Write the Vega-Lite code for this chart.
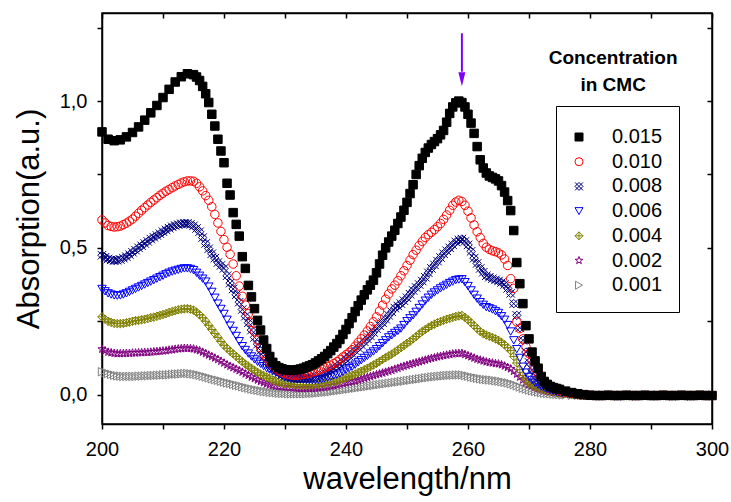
{
"$schema":"https://vega.github.io/schema/vega-lite/v6.json",
"width":610,"height":411,
"autosize":{"type":"none"},
"padding":{"left":102,"top":13,"right":19,"bottom":78},
"background":"white",
"config":{
"font":"Liberation Sans",
"view":{"stroke":"black","strokeWidth":1.5},
"axis":{"domainColor":"black","domainWidth":1.5,"tickColor":"black","tickWidth":1.5,"labelColor":"black","titleColor":"black","labelFont":"Liberation Sans","titleFont":"Liberation Sans","titleFontWeight":"normal","grid":false}
},
"datasets":{
"arrow":[{"w":259,"a":1.231,"a2":1.1}],
"head":[{"w":259,"a":1.074}],
"ltitle":[{"w":283.8,"a":1.146,"t":"Concentration"},{"w":283.8,"a":1.056,"t":"in CMC"}],
"spectra":[
{"c":"0.001","w":200,"a":0.078},{"c":"0.001","w":201,"a":0.072},{"c":"0.001","w":202,"a":0.066},{"c":"0.001","w":203,"a":0.063},{"c":"0.001","w":204,"a":0.062},{"c":"0.001","w":205,"a":0.062},{"c":"0.001","w":206,"a":0.063},{"c":"0.001","w":207,"a":0.064},{"c":"0.001","w":208,"a":0.065},{"c":"0.001","w":209,"a":0.066},{"c":"0.001","w":210,"a":0.067},{"c":"0.001","w":211,"a":0.068},{"c":"0.001","w":212,"a":0.07},{"c":"0.001","w":213,"a":0.071},{"c":"0.001","w":214,"a":0.072},{"c":"0.001","w":215,"a":0.07},{"c":"0.001","w":216,"a":0.066},{"c":"0.001","w":217,"a":0.06},{"c":"0.001","w":218,"a":0.054},{"c":"0.001","w":219,"a":0.049},{"c":"0.001","w":220,"a":0.043},{"c":"0.001","w":221,"a":0.038},{"c":"0.001","w":222,"a":0.032},{"c":"0.001","w":223,"a":0.027},{"c":"0.001","w":224,"a":0.022},{"c":"0.001","w":225,"a":0.017},{"c":"0.001","w":226,"a":0.013},{"c":"0.001","w":227,"a":0.01},{"c":"0.001","w":228,"a":0.007},{"c":"0.001","w":229,"a":0.005},{"c":"0.001","w":230,"a":0.004},{"c":"0.001","w":231,"a":0.003},{"c":"0.001","w":232,"a":0.003},{"c":"0.001","w":233,"a":0.003},{"c":"0.001","w":234,"a":0.004},{"c":"0.001","w":235,"a":0.005},{"c":"0.001","w":236,"a":0.007},{"c":"0.001","w":237,"a":0.009},{"c":"0.001","w":238,"a":0.012},{"c":"0.001","w":239,"a":0.015},{"c":"0.001","w":240,"a":0.018},{"c":"0.001","w":241,"a":0.021},{"c":"0.001","w":242,"a":0.024},{"c":"0.001","w":243,"a":0.027},{"c":"0.001","w":244,"a":0.03},{"c":"0.001","w":245,"a":0.033},{"c":"0.001","w":246,"a":0.036},{"c":"0.001","w":247,"a":0.039},{"c":"0.001","w":248,"a":0.042},{"c":"0.001","w":249,"a":0.045},{"c":"0.001","w":250,"a":0.048},{"c":"0.001","w":251,"a":0.051},{"c":"0.001","w":252,"a":0.054},{"c":"0.001","w":253,"a":0.057},{"c":"0.001","w":254,"a":0.06},{"c":"0.001","w":255,"a":0.062},{"c":"0.001","w":256,"a":0.064},{"c":"0.001","w":257,"a":0.066},{"c":"0.001","w":258,"a":0.067},{"c":"0.001","w":259,"a":0.067},{"c":"0.001","w":260,"a":0.063},{"c":"0.001","w":261,"a":0.058},{"c":"0.001","w":262,"a":0.054},{"c":"0.001","w":263,"a":0.051},{"c":"0.001","w":264,"a":0.049},{"c":"0.001","w":265,"a":0.046},{"c":"0.001","w":266,"a":0.042},{"c":"0.001","w":267,"a":0.037},{"c":"0.001","w":268,"a":0.03},{"c":"0.001","w":269,"a":0.022},{"c":"0.001","w":270,"a":0.016},{"c":"0.001","w":271,"a":0.011},{"c":"0.001","w":272,"a":0.007},{"c":"0.001","w":273,"a":0.004},{"c":"0.001","w":274,"a":0.002},{"c":"0.001","w":275,"a":0},{"c":"0.001","w":276,"a":-0.001},{"c":"0.001","w":277,"a":-0.002},{"c":"0.001","w":278,"a":-0.002},{"c":"0.001","w":279,"a":-0.003},{"c":"0.001","w":280,"a":-0.003},{"c":"0.001","w":281,"a":-0.002},{"c":"0.001","w":282,"a":-0.003},{"c":"0.001","w":283,"a":-0.003},{"c":"0.001","w":284,"a":-0.002},{"c":"0.001","w":285,"a":-0.003},{"c":"0.001","w":286,"a":-0.003},{"c":"0.001","w":287,"a":-0.002},{"c":"0.001","w":288,"a":-0.003},{"c":"0.001","w":289,"a":-0.003},{"c":"0.001","w":290,"a":-0.002},{"c":"0.001","w":291,"a":-0.003},{"c":"0.001","w":292,"a":-0.003},{"c":"0.001","w":293,"a":-0.002},{"c":"0.001","w":294,"a":-0.003},{"c":"0.001","w":295,"a":-0.003},{"c":"0.001","w":296,"a":-0.002},{"c":"0.001","w":297,"a":-0.003},{"c":"0.001","w":298,"a":-0.003},{"c":"0.001","w":299,"a":-0.002},{"c":"0.001","w":300,"a":-0.003},
{"c":"0.001","w":200.5,"a":0.075},{"c":"0.001","w":201.5,"a":0.069},{"c":"0.001","w":202.5,"a":0.064},{"c":"0.001","w":203.5,"a":0.062},{"c":"0.001","w":204.5,"a":0.062},{"c":"0.001","w":205.5,"a":0.062},{"c":"0.001","w":206.5,"a":0.063},{"c":"0.001","w":207.5,"a":0.064},{"c":"0.001","w":208.5,"a":0.065},{"c":"0.001","w":209.5,"a":0.066},{"c":"0.001","w":210.5,"a":0.067},{"c":"0.001","w":211.5,"a":0.069},{"c":"0.001","w":212.5,"a":0.07},{"c":"0.001","w":213.5,"a":0.072},{"c":"0.001","w":214.5,"a":0.071},{"c":"0.001","w":215.5,"a":0.068},{"c":"0.001","w":216.5,"a":0.063},{"c":"0.001","w":217.5,"a":0.057},{"c":"0.001","w":218.5,"a":0.051},{"c":"0.001","w":219.5,"a":0.046},{"c":"0.001","w":220.5,"a":0.04},{"c":"0.001","w":221.5,"a":0.035},{"c":"0.001","w":222.5,"a":0.03},{"c":"0.001","w":223.5,"a":0.024},{"c":"0.001","w":224.5,"a":0.019},{"c":"0.001","w":225.5,"a":0.015},{"c":"0.001","w":226.5,"a":0.011},{"c":"0.001","w":227.5,"a":0.008},{"c":"0.001","w":228.5,"a":0.006},{"c":"0.001","w":229.5,"a":0.004},{"c":"0.001","w":230.5,"a":0.003},{"c":"0.001","w":231.5,"a":0.003},{"c":"0.001","w":232.5,"a":0.003},{"c":"0.001","w":233.5,"a":0.003},{"c":"0.001","w":234.5,"a":0.004},{"c":"0.001","w":235.5,"a":0.006},{"c":"0.001","w":236.5,"a":0.008},{"c":"0.001","w":237.5,"a":0.01},{"c":"0.001","w":238.5,"a":0.013},{"c":"0.001","w":239.5,"a":0.016},{"c":"0.001","w":240.5,"a":0.019},{"c":"0.001","w":241.5,"a":0.022},{"c":"0.001","w":242.5,"a":0.025},{"c":"0.001","w":243.5,"a":0.028},{"c":"0.001","w":244.5,"a":0.031},{"c":"0.001","w":245.5,"a":0.034},{"c":"0.001","w":246.5,"a":0.037},{"c":"0.001","w":247.5,"a":0.04},{"c":"0.001","w":248.5,"a":0.043},{"c":"0.001","w":249.5,"a":0.046},{"c":"0.001","w":250.5,"a":0.049},{"c":"0.001","w":251.5,"a":0.052},{"c":"0.001","w":252.5,"a":0.055},{"c":"0.001","w":253.5,"a":0.058},{"c":"0.001","w":254.5,"a":0.061},{"c":"0.001","w":255.5,"a":0.063},{"c":"0.001","w":256.5,"a":0.065},{"c":"0.001","w":257.5,"a":0.066},{"c":"0.001","w":258.5,"a":0.067},{"c":"0.001","w":259.5,"a":0.065},{"c":"0.001","w":260.5,"a":0.06},{"c":"0.001","w":261.5,"a":0.056},{"c":"0.001","w":262.5,"a":0.052},{"c":"0.001","w":263.5,"a":0.05},{"c":"0.001","w":264.5,"a":0.047},{"c":"0.001","w":265.5,"a":0.044},{"c":"0.001","w":266.5,"a":0.04},{"c":"0.001","w":267.5,"a":0.034},{"c":"0.001","w":268.5,"a":0.026},{"c":"0.001","w":269.5,"a":0.019},{"c":"0.001","w":270.5,"a":0.013},{"c":"0.001","w":271.5,"a":0.009},{"c":"0.001","w":272.5,"a":0.005},{"c":"0.001","w":273.5,"a":0.003},{"c":"0.001","w":274.5,"a":0.001},{"c":"0.001","w":275.5,"a":-0.001},
{"c":"0.002","w":200,"a":0.155},{"c":"0.002","w":201,"a":0.145},{"c":"0.002","w":202,"a":0.141},{"c":"0.002","w":203,"a":0.14},{"c":"0.002","w":204,"a":0.141},{"c":"0.002","w":205,"a":0.142},{"c":"0.002","w":206,"a":0.143},{"c":"0.002","w":207,"a":0.144},{"c":"0.002","w":208,"a":0.145},{"c":"0.002","w":209,"a":0.147},{"c":"0.002","w":210,"a":0.149},{"c":"0.002","w":211,"a":0.152},{"c":"0.002","w":212,"a":0.155},{"c":"0.002","w":213,"a":0.157},{"c":"0.002","w":214,"a":0.158},{"c":"0.002","w":215,"a":0.156},{"c":"0.002","w":216,"a":0.15},{"c":"0.002","w":217,"a":0.14},{"c":"0.002","w":218,"a":0.13},{"c":"0.002","w":219,"a":0.12},{"c":"0.002","w":220,"a":0.108},{"c":"0.002","w":221,"a":0.097},{"c":"0.002","w":222,"a":0.087},{"c":"0.002","w":223,"a":0.077},{"c":"0.002","w":224,"a":0.066},{"c":"0.002","w":225,"a":0.055},{"c":"0.002","w":226,"a":0.045},{"c":"0.002","w":227,"a":0.037},{"c":"0.002","w":228,"a":0.031},{"c":"0.002","w":229,"a":0.028},{"c":"0.002","w":230,"a":0.026},{"c":"0.002","w":231,"a":0.024},{"c":"0.002","w":232,"a":0.022},{"c":"0.002","w":233,"a":0.021},{"c":"0.002","w":234,"a":0.021},{"c":"0.002","w":235,"a":0.022},{"c":"0.002","w":236,"a":0.024},{"c":"0.002","w":237,"a":0.027},{"c":"0.002","w":238,"a":0.031},{"c":"0.002","w":239,"a":0.036},{"c":"0.002","w":240,"a":0.041},{"c":"0.002","w":241,"a":0.045},{"c":"0.002","w":242,"a":0.05},{"c":"0.002","w":243,"a":0.056},{"c":"0.002","w":244,"a":0.062},{"c":"0.002","w":245,"a":0.068},{"c":"0.002","w":246,"a":0.074},{"c":"0.002","w":247,"a":0.08},{"c":"0.002","w":248,"a":0.087},{"c":"0.002","w":249,"a":0.094},{"c":"0.002","w":250,"a":0.1},{"c":"0.002","w":251,"a":0.106},{"c":"0.002","w":252,"a":0.112},{"c":"0.002","w":253,"a":0.118},{"c":"0.002","w":254,"a":0.124},{"c":"0.002","w":255,"a":0.129},{"c":"0.002","w":256,"a":0.133},{"c":"0.002","w":257,"a":0.137},{"c":"0.002","w":258,"a":0.14},{"c":"0.002","w":259,"a":0.141},{"c":"0.002","w":260,"a":0.133},{"c":"0.002","w":261,"a":0.125},{"c":"0.002","w":262,"a":0.118},{"c":"0.002","w":263,"a":0.112},{"c":"0.002","w":264,"a":0.108},{"c":"0.002","w":265,"a":0.105},{"c":"0.002","w":266,"a":0.098},{"c":"0.002","w":267,"a":0.088},{"c":"0.002","w":268,"a":0.07},{"c":"0.002","w":269,"a":0.05},{"c":"0.002","w":270,"a":0.035},{"c":"0.002","w":271,"a":0.025},{"c":"0.002","w":272,"a":0.018},{"c":"0.002","w":273,"a":0.012},{"c":"0.002","w":274,"a":0.008},{"c":"0.002","w":275,"a":0.005},{"c":"0.002","w":276,"a":0.002},{"c":"0.002","w":277,"a":0},{"c":"0.002","w":278,"a":-0.002},{"c":"0.002","w":279,"a":-0.003},{"c":"0.002","w":280,"a":-0.003},{"c":"0.002","w":281,"a":-0.004},{"c":"0.002","w":282,"a":-0.003},{"c":"0.002","w":283,"a":-0.003},{"c":"0.002","w":284,"a":-0.004},{"c":"0.002","w":285,"a":-0.003},{"c":"0.002","w":286,"a":-0.003},{"c":"0.002","w":287,"a":-0.004},{"c":"0.002","w":288,"a":-0.003},{"c":"0.002","w":289,"a":-0.003},{"c":"0.002","w":290,"a":-0.004},{"c":"0.002","w":291,"a":-0.003},{"c":"0.002","w":292,"a":-0.003},{"c":"0.002","w":293,"a":-0.004},{"c":"0.002","w":294,"a":-0.003},{"c":"0.002","w":295,"a":-0.003},{"c":"0.002","w":296,"a":-0.004},{"c":"0.002","w":297,"a":-0.003},{"c":"0.002","w":298,"a":-0.003},{"c":"0.002","w":299,"a":-0.004},{"c":"0.002","w":300,"a":-0.003},
{"c":"0.002","w":200.5,"a":0.15},{"c":"0.002","w":201.5,"a":0.143},{"c":"0.002","w":202.5,"a":0.14},{"c":"0.002","w":203.5,"a":0.14},{"c":"0.002","w":204.5,"a":0.141},{"c":"0.002","w":205.5,"a":0.142},{"c":"0.002","w":206.5,"a":0.143},{"c":"0.002","w":207.5,"a":0.144},{"c":"0.002","w":208.5,"a":0.146},{"c":"0.002","w":209.5,"a":0.148},{"c":"0.002","w":210.5,"a":0.15},{"c":"0.002","w":211.5,"a":0.153},{"c":"0.002","w":212.5,"a":0.156},{"c":"0.002","w":213.5,"a":0.158},{"c":"0.002","w":214.5,"a":0.157},{"c":"0.002","w":215.5,"a":0.153},{"c":"0.002","w":216.5,"a":0.145},{"c":"0.002","w":217.5,"a":0.135},{"c":"0.002","w":218.5,"a":0.125},{"c":"0.002","w":219.5,"a":0.114},{"c":"0.002","w":220.5,"a":0.102},{"c":"0.002","w":221.5,"a":0.092},{"c":"0.002","w":222.5,"a":0.082},{"c":"0.002","w":223.5,"a":0.071},{"c":"0.002","w":224.5,"a":0.06},{"c":"0.002","w":225.5,"a":0.05},{"c":"0.002","w":226.5,"a":0.041},{"c":"0.002","w":227.5,"a":0.034},{"c":"0.002","w":228.5,"a":0.029},{"c":"0.002","w":229.5,"a":0.027},{"c":"0.002","w":230.5,"a":0.025},{"c":"0.002","w":231.5,"a":0.023},{"c":"0.002","w":232.5,"a":0.021},{"c":"0.002","w":233.5,"a":0.021},{"c":"0.002","w":234.5,"a":0.021},{"c":"0.002","w":235.5,"a":0.023},{"c":"0.002","w":236.5,"a":0.025},{"c":"0.002","w":237.5,"a":0.029},{"c":"0.002","w":238.5,"a":0.033},{"c":"0.002","w":239.5,"a":0.038},{"c":"0.002","w":240.5,"a":0.043},{"c":"0.002","w":241.5,"a":0.047},{"c":"0.002","w":242.5,"a":0.053},{"c":"0.002","w":243.5,"a":0.059},{"c":"0.002","w":244.5,"a":0.065},{"c":"0.002","w":245.5,"a":0.071},{"c":"0.002","w":246.5,"a":0.077},{"c":"0.002","w":247.5,"a":0.083},{"c":"0.002","w":248.5,"a":0.09},{"c":"0.002","w":249.5,"a":0.097},{"c":"0.002","w":250.5,"a":0.103},{"c":"0.002","w":251.5,"a":0.109},{"c":"0.002","w":252.5,"a":0.115},{"c":"0.002","w":253.5,"a":0.121},{"c":"0.002","w":254.5,"a":0.126},{"c":"0.002","w":255.5,"a":0.131},{"c":"0.002","w":256.5,"a":0.135},{"c":"0.002","w":257.5,"a":0.139},{"c":"0.002","w":258.5,"a":0.141},{"c":"0.002","w":259.5,"a":0.137},{"c":"0.002","w":260.5,"a":0.129},{"c":"0.002","w":261.5,"a":0.121},{"c":"0.002","w":262.5,"a":0.115},{"c":"0.002","w":263.5,"a":0.11},{"c":"0.002","w":264.5,"a":0.106},{"c":"0.002","w":265.5,"a":0.102},{"c":"0.002","w":266.5,"a":0.093},{"c":"0.002","w":267.5,"a":0.08},{"c":"0.002","w":268.5,"a":0.06},{"c":"0.002","w":269.5,"a":0.042},{"c":"0.002","w":270.5,"a":0.03},{"c":"0.002","w":271.5,"a":0.021},{"c":"0.002","w":272.5,"a":0.015},{"c":"0.002","w":273.5,"a":0.01},{"c":"0.002","w":274.5,"a":0.006},{"c":"0.002","w":275.5,"a":0.003},
{"c":"0.004","w":200,"a":0.265},{"c":"0.004","w":201,"a":0.25},{"c":"0.004","w":202,"a":0.243},{"c":"0.004","w":203,"a":0.242},{"c":"0.004","w":204,"a":0.245},{"c":"0.004","w":205,"a":0.25},{"c":"0.004","w":206,"a":0.253},{"c":"0.004","w":207,"a":0.257},{"c":"0.004","w":208,"a":0.262},{"c":"0.004","w":209,"a":0.267},{"c":"0.004","w":210,"a":0.273},{"c":"0.004","w":211,"a":0.28},{"c":"0.004","w":212,"a":0.286},{"c":"0.004","w":213,"a":0.291},{"c":"0.004","w":214,"a":0.293},{"c":"0.004","w":215,"a":0.288},{"c":"0.004","w":216,"a":0.272},{"c":"0.004","w":217,"a":0.25},{"c":"0.004","w":218,"a":0.222},{"c":"0.004","w":219,"a":0.195},{"c":"0.004","w":220,"a":0.168},{"c":"0.004","w":221,"a":0.148},{"c":"0.004","w":222,"a":0.13},{"c":"0.004","w":223,"a":0.112},{"c":"0.004","w":224,"a":0.097},{"c":"0.004","w":225,"a":0.083},{"c":"0.004","w":226,"a":0.07},{"c":"0.004","w":227,"a":0.06},{"c":"0.004","w":228,"a":0.05},{"c":"0.004","w":229,"a":0.043},{"c":"0.004","w":230,"a":0.038},{"c":"0.004","w":231,"a":0.036},{"c":"0.004","w":232,"a":0.034},{"c":"0.004","w":233,"a":0.033},{"c":"0.004","w":234,"a":0.033},{"c":"0.004","w":235,"a":0.035},{"c":"0.004","w":236,"a":0.038},{"c":"0.004","w":237,"a":0.041},{"c":"0.004","w":238,"a":0.045},{"c":"0.004","w":239,"a":0.05},{"c":"0.004","w":240,"a":0.058},{"c":"0.004","w":241,"a":0.066},{"c":"0.004","w":242,"a":0.075},{"c":"0.004","w":243,"a":0.085},{"c":"0.004","w":244,"a":0.095},{"c":"0.004","w":245,"a":0.107},{"c":"0.004","w":246,"a":0.12},{"c":"0.004","w":247,"a":0.132},{"c":"0.004","w":248,"a":0.145},{"c":"0.004","w":249,"a":0.16},{"c":"0.004","w":250,"a":0.175},{"c":"0.004","w":251,"a":0.19},{"c":"0.004","w":252,"a":0.207},{"c":"0.004","w":253,"a":0.222},{"c":"0.004","w":254,"a":0.235},{"c":"0.004","w":255,"a":0.245},{"c":"0.004","w":256,"a":0.253},{"c":"0.004","w":257,"a":0.26},{"c":"0.004","w":258,"a":0.266},{"c":"0.004","w":259,"a":0.27},{"c":"0.004","w":260,"a":0.255},{"c":"0.004","w":261,"a":0.235},{"c":"0.004","w":262,"a":0.215},{"c":"0.004","w":263,"a":0.203},{"c":"0.004","w":264,"a":0.195},{"c":"0.004","w":265,"a":0.185},{"c":"0.004","w":266,"a":0.17},{"c":"0.004","w":267,"a":0.15},{"c":"0.004","w":268,"a":0.108},{"c":"0.004","w":269,"a":0.065},{"c":"0.004","w":270,"a":0.04},{"c":"0.004","w":271,"a":0.028},{"c":"0.004","w":272,"a":0.02},{"c":"0.004","w":273,"a":0.014},{"c":"0.004","w":274,"a":0.01},{"c":"0.004","w":275,"a":0.006},{"c":"0.004","w":276,"a":0.003},{"c":"0.004","w":277,"a":0},{"c":"0.004","w":278,"a":-0.002},{"c":"0.004","w":279,"a":-0.003},{"c":"0.004","w":280,"a":-0.004},{"c":"0.004","w":281,"a":-0.004},{"c":"0.004","w":282,"a":-0.003},{"c":"0.004","w":283,"a":-0.004},{"c":"0.004","w":284,"a":-0.004},{"c":"0.004","w":285,"a":-0.003},{"c":"0.004","w":286,"a":-0.004},{"c":"0.004","w":287,"a":-0.004},{"c":"0.004","w":288,"a":-0.003},{"c":"0.004","w":289,"a":-0.004},{"c":"0.004","w":290,"a":-0.004},{"c":"0.004","w":291,"a":-0.003},{"c":"0.004","w":292,"a":-0.004},{"c":"0.004","w":293,"a":-0.004},{"c":"0.004","w":294,"a":-0.003},{"c":"0.004","w":295,"a":-0.004},{"c":"0.004","w":296,"a":-0.004},{"c":"0.004","w":297,"a":-0.003},{"c":"0.004","w":298,"a":-0.004},{"c":"0.004","w":299,"a":-0.004},{"c":"0.004","w":300,"a":-0.003},
{"c":"0.004","w":200.5,"a":0.257},{"c":"0.004","w":201.5,"a":0.246},{"c":"0.004","w":202.5,"a":0.242},{"c":"0.004","w":203.5,"a":0.243},{"c":"0.004","w":204.5,"a":0.247},{"c":"0.004","w":205.5,"a":0.252},{"c":"0.004","w":206.5,"a":0.255},{"c":"0.004","w":207.5,"a":0.259},{"c":"0.004","w":208.5,"a":0.264},{"c":"0.004","w":209.5,"a":0.27},{"c":"0.004","w":210.5,"a":0.276},{"c":"0.004","w":211.5,"a":0.283},{"c":"0.004","w":212.5,"a":0.289},{"c":"0.004","w":213.5,"a":0.292},{"c":"0.004","w":214.5,"a":0.291},{"c":"0.004","w":215.5,"a":0.281},{"c":"0.004","w":216.5,"a":0.262},{"c":"0.004","w":217.5,"a":0.236},{"c":"0.004","w":218.5,"a":0.208},{"c":"0.004","w":219.5,"a":0.181},{"c":"0.004","w":220.5,"a":0.158},{"c":"0.004","w":221.5,"a":0.139},{"c":"0.004","w":222.5,"a":0.121},{"c":"0.004","w":223.5,"a":0.104},{"c":"0.004","w":224.5,"a":0.09},{"c":"0.004","w":225.5,"a":0.076},{"c":"0.004","w":226.5,"a":0.065},{"c":"0.004","w":227.5,"a":0.055},{"c":"0.004","w":228.5,"a":0.046},{"c":"0.004","w":229.5,"a":0.04},{"c":"0.004","w":230.5,"a":0.037},{"c":"0.004","w":231.5,"a":0.035},{"c":"0.004","w":232.5,"a":0.033},{"c":"0.004","w":233.5,"a":0.033},{"c":"0.004","w":234.5,"a":0.034},{"c":"0.004","w":235.5,"a":0.036},{"c":"0.004","w":236.5,"a":0.039},{"c":"0.004","w":237.5,"a":0.043},{"c":"0.004","w":238.5,"a":0.047},{"c":"0.004","w":239.5,"a":0.054},{"c":"0.004","w":240.5,"a":0.062},{"c":"0.004","w":241.5,"a":0.07},{"c":"0.004","w":242.5,"a":0.08},{"c":"0.004","w":243.5,"a":0.09},{"c":"0.004","w":244.5,"a":0.101},{"c":"0.004","w":245.5,"a":0.113},{"c":"0.004","w":246.5,"a":0.126},{"c":"0.004","w":247.5,"a":0.138},{"c":"0.004","w":248.5,"a":0.152},{"c":"0.004","w":249.5,"a":0.167},{"c":"0.004","w":250.5,"a":0.182},{"c":"0.004","w":251.5,"a":0.198},{"c":"0.004","w":252.5,"a":0.215},{"c":"0.004","w":253.5,"a":0.229},{"c":"0.004","w":254.5,"a":0.24},{"c":"0.004","w":255.5,"a":0.249},{"c":"0.004","w":256.5,"a":0.257},{"c":"0.004","w":257.5,"a":0.263},{"c":"0.004","w":258.5,"a":0.268},{"c":"0.004","w":259.5,"a":0.263},{"c":"0.004","w":260.5,"a":0.245},{"c":"0.004","w":261.5,"a":0.225},{"c":"0.004","w":262.5,"a":0.208},{"c":"0.004","w":263.5,"a":0.199},{"c":"0.004","w":264.5,"a":0.19},{"c":"0.004","w":265.5,"a":0.178},{"c":"0.004","w":266.5,"a":0.16},{"c":"0.004","w":267.5,"a":0.13},{"c":"0.004","w":268.5,"a":0.085},{"c":"0.004","w":269.5,"a":0.05},{"c":"0.004","w":270.5,"a":0.033},{"c":"0.004","w":271.5,"a":0.024},{"c":"0.004","w":272.5,"a":0.017},{"c":"0.004","w":273.5,"a":0.012},{"c":"0.004","w":274.5,"a":0.008},{"c":"0.004","w":275.5,"a":0.004},
{"c":"0.006","w":200,"a":0.36},{"c":"0.006","w":201,"a":0.345},{"c":"0.006","w":202,"a":0.338},{"c":"0.006","w":203,"a":0.338},{"c":"0.006","w":204,"a":0.345},{"c":"0.006","w":205,"a":0.355},{"c":"0.006","w":206,"a":0.365},{"c":"0.006","w":207,"a":0.375},{"c":"0.006","w":208,"a":0.385},{"c":"0.006","w":209,"a":0.395},{"c":"0.006","w":210,"a":0.405},{"c":"0.006","w":211,"a":0.415},{"c":"0.006","w":212,"a":0.422},{"c":"0.006","w":213,"a":0.428},{"c":"0.006","w":214,"a":0.43},{"c":"0.006","w":215,"a":0.424},{"c":"0.006","w":216,"a":0.405},{"c":"0.006","w":217,"a":0.385},{"c":"0.006","w":218,"a":0.35},{"c":"0.006","w":219,"a":0.31},{"c":"0.006","w":220,"a":0.275},{"c":"0.006","w":221,"a":0.235},{"c":"0.006","w":222,"a":0.2},{"c":"0.006","w":223,"a":0.165},{"c":"0.006","w":224,"a":0.14},{"c":"0.006","w":225,"a":0.12},{"c":"0.006","w":226,"a":0.105},{"c":"0.006","w":227,"a":0.09},{"c":"0.006","w":228,"a":0.08},{"c":"0.006","w":229,"a":0.07},{"c":"0.006","w":230,"a":0.062},{"c":"0.006","w":231,"a":0.057},{"c":"0.006","w":232,"a":0.054},{"c":"0.006","w":233,"a":0.052},{"c":"0.006","w":234,"a":0.05},{"c":"0.006","w":235,"a":0.05},{"c":"0.006","w":236,"a":0.052},{"c":"0.006","w":237,"a":0.058},{"c":"0.006","w":238,"a":0.065},{"c":"0.006","w":239,"a":0.072},{"c":"0.006","w":240,"a":0.085},{"c":"0.006","w":241,"a":0.095},{"c":"0.006","w":242,"a":0.11},{"c":"0.006","w":243,"a":0.125},{"c":"0.006","w":244,"a":0.14},{"c":"0.006","w":245,"a":0.155},{"c":"0.006","w":246,"a":0.175},{"c":"0.006","w":247,"a":0.195},{"c":"0.006","w":248,"a":0.21},{"c":"0.006","w":249,"a":0.225},{"c":"0.006","w":250,"a":0.25},{"c":"0.006","w":251,"a":0.27},{"c":"0.006","w":252,"a":0.295},{"c":"0.006","w":253,"a":0.32},{"c":"0.006","w":254,"a":0.34},{"c":"0.006","w":255,"a":0.355},{"c":"0.006","w":256,"a":0.368},{"c":"0.006","w":257,"a":0.38},{"c":"0.006","w":258,"a":0.39},{"c":"0.006","w":259,"a":0.393},{"c":"0.006","w":260,"a":0.37},{"c":"0.006","w":261,"a":0.34},{"c":"0.006","w":262,"a":0.315},{"c":"0.006","w":263,"a":0.298},{"c":"0.006","w":264,"a":0.29},{"c":"0.006","w":265,"a":0.278},{"c":"0.006","w":266,"a":0.255},{"c":"0.006","w":267,"a":0.215},{"c":"0.006","w":268,"a":0.155},{"c":"0.006","w":269,"a":0.095},{"c":"0.006","w":270,"a":0.06},{"c":"0.006","w":271,"a":0.04},{"c":"0.006","w":272,"a":0.028},{"c":"0.006","w":273,"a":0.02},{"c":"0.006","w":274,"a":0.013},{"c":"0.006","w":275,"a":0.008},{"c":"0.006","w":276,"a":0.005},{"c":"0.006","w":277,"a":0.002},{"c":"0.006","w":278,"a":0},{"c":"0.006","w":279,"a":-0.002},{"c":"0.006","w":280,"a":-0.004},{"c":"0.006","w":281,"a":-0.005},{"c":"0.006","w":282,"a":-0.005},{"c":"0.006","w":283,"a":-0.004},{"c":"0.006","w":284,"a":-0.005},{"c":"0.006","w":285,"a":-0.005},{"c":"0.006","w":286,"a":-0.004},{"c":"0.006","w":287,"a":-0.005},{"c":"0.006","w":288,"a":-0.005},{"c":"0.006","w":289,"a":-0.004},{"c":"0.006","w":290,"a":-0.005},{"c":"0.006","w":291,"a":-0.005},{"c":"0.006","w":292,"a":-0.004},{"c":"0.006","w":293,"a":-0.005},{"c":"0.006","w":294,"a":-0.005},{"c":"0.006","w":295,"a":-0.004},{"c":"0.006","w":296,"a":-0.005},{"c":"0.006","w":297,"a":-0.005},{"c":"0.006","w":298,"a":-0.004},{"c":"0.006","w":299,"a":-0.005},{"c":"0.006","w":300,"a":-0.005},
{"c":"0.006","w":200.5,"a":0.352},{"c":"0.006","w":201.5,"a":0.341},{"c":"0.006","w":202.5,"a":0.337},{"c":"0.006","w":203.5,"a":0.341},{"c":"0.006","w":204.5,"a":0.35},{"c":"0.006","w":205.5,"a":0.36},{"c":"0.006","w":206.5,"a":0.37},{"c":"0.006","w":207.5,"a":0.38},{"c":"0.006","w":208.5,"a":0.39},{"c":"0.006","w":209.5,"a":0.4},{"c":"0.006","w":210.5,"a":0.41},{"c":"0.006","w":211.5,"a":0.419},{"c":"0.006","w":212.5,"a":0.425},{"c":"0.006","w":213.5,"a":0.43},{"c":"0.006","w":214.5,"a":0.428},{"c":"0.006","w":215.5,"a":0.415},{"c":"0.006","w":216.5,"a":0.395},{"c":"0.006","w":217.5,"a":0.368},{"c":"0.006","w":218.5,"a":0.33},{"c":"0.006","w":219.5,"a":0.292},{"c":"0.006","w":220.5,"a":0.255},{"c":"0.006","w":221.5,"a":0.217},{"c":"0.006","w":222.5,"a":0.182},{"c":"0.006","w":223.5,"a":0.152},{"c":"0.006","w":224.5,"a":0.13},{"c":"0.006","w":225.5,"a":0.112},{"c":"0.006","w":226.5,"a":0.097},{"c":"0.006","w":227.5,"a":0.085},{"c":"0.006","w":228.5,"a":0.075},{"c":"0.006","w":229.5,"a":0.066},{"c":"0.006","w":230.5,"a":0.059},{"c":"0.006","w":231.5,"a":0.055},{"c":"0.006","w":232.5,"a":0.053},{"c":"0.006","w":233.5,"a":0.051},{"c":"0.006","w":234.5,"a":0.05},{"c":"0.006","w":235.5,"a":0.051},{"c":"0.006","w":236.5,"a":0.055},{"c":"0.006","w":237.5,"a":0.061},{"c":"0.006","w":238.5,"a":0.068},{"c":"0.006","w":239.5,"a":0.078},{"c":"0.006","w":240.5,"a":0.09},{"c":"0.006","w":241.5,"a":0.102},{"c":"0.006","w":242.5,"a":0.117},{"c":"0.006","w":243.5,"a":0.132},{"c":"0.006","w":244.5,"a":0.147},{"c":"0.006","w":245.5,"a":0.165},{"c":"0.006","w":246.5,"a":0.185},{"c":"0.006","w":247.5,"a":0.202},{"c":"0.006","w":248.5,"a":0.217},{"c":"0.006","w":249.5,"a":0.237},{"c":"0.006","w":250.5,"a":0.26},{"c":"0.006","w":251.5,"a":0.282},{"c":"0.006","w":252.5,"a":0.307},{"c":"0.006","w":253.5,"a":0.33},{"c":"0.006","w":254.5,"a":0.348},{"c":"0.006","w":255.5,"a":0.362},{"c":"0.006","w":256.5,"a":0.374},{"c":"0.006","w":257.5,"a":0.385},{"c":"0.006","w":258.5,"a":0.392},{"c":"0.006","w":259.5,"a":0.383},{"c":"0.006","w":260.5,"a":0.355},{"c":"0.006","w":261.5,"a":0.327},{"c":"0.006","w":262.5,"a":0.306},{"c":"0.006","w":263.5,"a":0.294},{"c":"0.006","w":264.5,"a":0.284},{"c":"0.006","w":265.5,"a":0.267},{"c":"0.006","w":266.5,"a":0.237},{"c":"0.006","w":267.5,"a":0.185},{"c":"0.006","w":268.5,"a":0.125},{"c":"0.006","w":269.5,"a":0.075},{"c":"0.006","w":270.5,"a":0.05},{"c":"0.006","w":271.5,"a":0.034},{"c":"0.006","w":272.5,"a":0.024},{"c":"0.006","w":273.5,"a":0.016},{"c":"0.006","w":274.5,"a":0.01},{"c":"0.006","w":275.5,"a":0.006},
{"c":"0.008","w":200,"a":0.475},{"c":"0.008","w":201,"a":0.462},{"c":"0.008","w":202,"a":0.457},{"c":"0.008","w":203,"a":0.46},{"c":"0.008","w":204,"a":0.47},{"c":"0.008","w":205,"a":0.485},{"c":"0.008","w":206,"a":0.5},{"c":"0.008","w":207,"a":0.515},{"c":"0.008","w":208,"a":0.53},{"c":"0.008","w":209,"a":0.542},{"c":"0.008","w":210,"a":0.555},{"c":"0.008","w":211,"a":0.567},{"c":"0.008","w":212,"a":0.576},{"c":"0.008","w":213,"a":0.582},{"c":"0.008","w":214,"a":0.583},{"c":"0.008","w":215,"a":0.575},{"c":"0.008","w":216,"a":0.555},{"c":"0.008","w":217,"a":0.515},{"c":"0.008","w":218,"a":0.48},{"c":"0.008","w":219,"a":0.45},{"c":"0.008","w":220,"a":0.43},{"c":"0.008","w":221,"a":0.38},{"c":"0.008","w":222,"a":0.34},{"c":"0.008","w":223,"a":0.29},{"c":"0.008","w":224,"a":0.245},{"c":"0.008","w":225,"a":0.195},{"c":"0.008","w":226,"a":0.15},{"c":"0.008","w":227,"a":0.11},{"c":"0.008","w":228,"a":0.09},{"c":"0.008","w":229,"a":0.075},{"c":"0.008","w":230,"a":0.062},{"c":"0.008","w":231,"a":0.056},{"c":"0.008","w":232,"a":0.055},{"c":"0.008","w":233,"a":0.055},{"c":"0.008","w":234,"a":0.057},{"c":"0.008","w":235,"a":0.062},{"c":"0.008","w":236,"a":0.068},{"c":"0.008","w":237,"a":0.077},{"c":"0.008","w":238,"a":0.09},{"c":"0.008","w":239,"a":0.105},{"c":"0.008","w":240,"a":0.122},{"c":"0.008","w":241,"a":0.14},{"c":"0.008","w":242,"a":0.16},{"c":"0.008","w":243,"a":0.18},{"c":"0.008","w":244,"a":0.2},{"c":"0.008","w":245,"a":0.225},{"c":"0.008","w":246,"a":0.245},{"c":"0.008","w":247,"a":0.27},{"c":"0.008","w":248,"a":0.295},{"c":"0.008","w":249,"a":0.31},{"c":"0.008","w":250,"a":0.33},{"c":"0.008","w":251,"a":0.355},{"c":"0.008","w":252,"a":0.375},{"c":"0.008","w":253,"a":0.4},{"c":"0.008","w":254,"a":0.43},{"c":"0.008","w":255,"a":0.455},{"c":"0.008","w":256,"a":0.48},{"c":"0.008","w":257,"a":0.5},{"c":"0.008","w":258,"a":0.52},{"c":"0.008","w":259,"a":0.53},{"c":"0.008","w":260,"a":0.51},{"c":"0.008","w":261,"a":0.465},{"c":"0.008","w":262,"a":0.43},{"c":"0.008","w":263,"a":0.405},{"c":"0.008","w":264,"a":0.395},{"c":"0.008","w":265,"a":0.387},{"c":"0.008","w":266,"a":0.375},{"c":"0.008","w":267,"a":0.345},{"c":"0.008","w":268,"a":0.27},{"c":"0.008","w":269,"a":0.185},{"c":"0.008","w":270,"a":0.11},{"c":"0.008","w":271,"a":0.065},{"c":"0.008","w":272,"a":0.045},{"c":"0.008","w":273,"a":0.03},{"c":"0.008","w":274,"a":0.02},{"c":"0.008","w":275,"a":0.013},{"c":"0.008","w":276,"a":0.008},{"c":"0.008","w":277,"a":0.005},{"c":"0.008","w":278,"a":0.001},{"c":"0.008","w":279,"a":-0.002},{"c":"0.008","w":280,"a":-0.003},{"c":"0.008","w":281,"a":-0.004},{"c":"0.008","w":282,"a":-0.004},{"c":"0.008","w":283,"a":-0.003},{"c":"0.008","w":284,"a":-0.004},{"c":"0.008","w":285,"a":-0.004},{"c":"0.008","w":286,"a":-0.003},{"c":"0.008","w":287,"a":-0.004},{"c":"0.008","w":288,"a":-0.004},{"c":"0.008","w":289,"a":-0.003},{"c":"0.008","w":290,"a":-0.004},{"c":"0.008","w":291,"a":-0.004},{"c":"0.008","w":292,"a":-0.003},{"c":"0.008","w":293,"a":-0.004},{"c":"0.008","w":294,"a":-0.004},{"c":"0.008","w":295,"a":-0.003},{"c":"0.008","w":296,"a":-0.004},{"c":"0.008","w":297,"a":-0.004},{"c":"0.008","w":298,"a":-0.003},{"c":"0.008","w":299,"a":-0.004},{"c":"0.008","w":300,"a":-0.004},
{"c":"0.008","w":200.5,"a":0.468},{"c":"0.008","w":201.5,"a":0.459},{"c":"0.008","w":202.5,"a":0.458},{"c":"0.008","w":203.5,"a":0.465},{"c":"0.008","w":204.5,"a":0.477},{"c":"0.008","w":205.5,"a":0.492},{"c":"0.008","w":206.5,"a":0.507},{"c":"0.008","w":207.5,"a":0.522},{"c":"0.008","w":208.5,"a":0.536},{"c":"0.008","w":209.5,"a":0.548},{"c":"0.008","w":210.5,"a":0.561},{"c":"0.008","w":211.5,"a":0.572},{"c":"0.008","w":212.5,"a":0.579},{"c":"0.008","w":213.5,"a":0.583},{"c":"0.008","w":214.5,"a":0.58},{"c":"0.008","w":215.5,"a":0.566},{"c":"0.008","w":216.5,"a":0.535},{"c":"0.008","w":217.5,"a":0.497},{"c":"0.008","w":218.5,"a":0.465},{"c":"0.008","w":219.5,"a":0.44},{"c":"0.008","w":220.5,"a":0.405},{"c":"0.008","w":221.5,"a":0.36},{"c":"0.008","w":222.5,"a":0.315},{"c":"0.008","w":223.5,"a":0.267},{"c":"0.008","w":224.5,"a":0.22},{"c":"0.008","w":225.5,"a":0.172},{"c":"0.008","w":226.5,"a":0.13},{"c":"0.008","w":227.5,"a":0.1},{"c":"0.008","w":228.5,"a":0.082},{"c":"0.008","w":229.5,"a":0.068},{"c":"0.008","w":230.5,"a":0.059},{"c":"0.008","w":231.5,"a":0.055},{"c":"0.008","w":232.5,"a":0.055},{"c":"0.008","w":233.5,"a":0.056},{"c":"0.008","w":234.5,"a":0.059},{"c":"0.008","w":235.5,"a":0.065},{"c":"0.008","w":236.5,"a":0.072},{"c":"0.008","w":237.5,"a":0.083},{"c":"0.008","w":238.5,"a":0.097},{"c":"0.008","w":239.5,"a":0.113},{"c":"0.008","w":240.5,"a":0.131},{"c":"0.008","w":241.5,"a":0.15},{"c":"0.008","w":242.5,"a":0.17},{"c":"0.008","w":243.5,"a":0.19},{"c":"0.008","w":244.5,"a":0.212},{"c":"0.008","w":245.5,"a":0.235},{"c":"0.008","w":246.5,"a":0.257},{"c":"0.008","w":247.5,"a":0.282},{"c":"0.008","w":248.5,"a":0.302},{"c":"0.008","w":249.5,"a":0.32},{"c":"0.008","w":250.5,"a":0.342},{"c":"0.008","w":251.5,"a":0.365},{"c":"0.008","w":252.5,"a":0.387},{"c":"0.008","w":253.5,"a":0.415},{"c":"0.008","w":254.5,"a":0.442},{"c":"0.008","w":255.5,"a":0.467},{"c":"0.008","w":256.5,"a":0.49},{"c":"0.008","w":257.5,"a":0.51},{"c":"0.008","w":258.5,"a":0.527},{"c":"0.008","w":259.5,"a":0.522},{"c":"0.008","w":260.5,"a":0.488},{"c":"0.008","w":261.5,"a":0.447},{"c":"0.008","w":262.5,"a":0.417},{"c":"0.008","w":263.5,"a":0.4},{"c":"0.008","w":264.5,"a":0.391},{"c":"0.008","w":265.5,"a":0.382},{"c":"0.008","w":266.5,"a":0.362},{"c":"0.008","w":267.5,"a":0.31},{"c":"0.008","w":268.5,"a":0.228},{"c":"0.008","w":269.5,"a":0.145},{"c":"0.008","w":270.5,"a":0.085},{"c":"0.008","w":271.5,"a":0.055},{"c":"0.008","w":272.5,"a":0.037},{"c":"0.008","w":273.5,"a":0.025},{"c":"0.008","w":274.5,"a":0.016},{"c":"0.008","w":275.5,"a":0.01},
{"c":"0.010","w":200,"a":0.595},{"c":"0.010","w":200.5,"a":0.585},{"c":"0.010","w":201,"a":0.576},{"c":"0.010","w":201.5,"a":0.573},{"c":"0.010","w":202,"a":0.571},{"c":"0.010","w":202.5,"a":0.572},{"c":"0.010","w":203,"a":0.574},{"c":"0.010","w":203.5,"a":0.579},{"c":"0.010","w":204,"a":0.584},{"c":"0.010","w":204.5,"a":0.591},{"c":"0.010","w":205,"a":0.598},{"c":"0.010","w":205.5,"a":0.608},{"c":"0.010","w":206,"a":0.618},{"c":"0.010","w":206.5,"a":0.628},{"c":"0.010","w":207,"a":0.637},{"c":"0.010","w":207.5,"a":0.646},{"c":"0.010","w":208,"a":0.655},{"c":"0.010","w":208.5,"a":0.663},{"c":"0.010","w":209,"a":0.671},{"c":"0.010","w":209.5,"a":0.679},{"c":"0.010","w":210,"a":0.686},{"c":"0.010","w":210.5,"a":0.693},{"c":"0.010","w":211,"a":0.699},{"c":"0.010","w":211.5,"a":0.705},{"c":"0.010","w":212,"a":0.711},{"c":"0.010","w":212.5,"a":0.716},{"c":"0.010","w":213,"a":0.721},{"c":"0.010","w":213.5,"a":0.725},{"c":"0.010","w":214,"a":0.728},{"c":"0.010","w":214.5,"a":0.728},{"c":"0.010","w":215,"a":0.727},{"c":"0.010","w":215.5,"a":0.72},{"c":"0.010","w":216,"a":0.708},{"c":"0.010","w":216.5,"a":0.694},{"c":"0.010","w":217,"a":0.678},{"c":"0.010","w":217.5,"a":0.662},{"c":"0.010","w":218,"a":0.64},{"c":"0.010","w":218.5,"a":0.614},{"c":"0.010","w":219,"a":0.585},{"c":"0.010","w":219.5,"a":0.556},{"c":"0.010","w":220,"a":0.528},{"c":"0.010","w":220.5,"a":0.502},{"c":"0.010","w":221,"a":0.478},{"c":"0.010","w":221.5,"a":0.445},{"c":"0.010","w":222,"a":0.405},{"c":"0.010","w":222.5,"a":0.37},{"c":"0.010","w":223,"a":0.335},{"c":"0.010","w":223.5,"a":0.305},{"c":"0.010","w":224,"a":0.276},{"c":"0.010","w":224.5,"a":0.246},{"c":"0.010","w":225,"a":0.215},{"c":"0.010","w":225.5,"a":0.186},{"c":"0.010","w":226,"a":0.16},{"c":"0.010","w":226.5,"a":0.14},{"c":"0.010","w":227,"a":0.124},{"c":"0.010","w":227.5,"a":0.11},{"c":"0.010","w":228,"a":0.1},{"c":"0.010","w":228.5,"a":0.09},{"c":"0.010","w":229,"a":0.082},{"c":"0.010","w":229.5,"a":0.076},{"c":"0.010","w":230,"a":0.072},{"c":"0.010","w":230.5,"a":0.069},{"c":"0.010","w":231,"a":0.067},{"c":"0.010","w":231.5,"a":0.066},{"c":"0.010","w":232,"a":0.066},{"c":"0.010","w":232.5,"a":0.067},{"c":"0.010","w":233,"a":0.069},{"c":"0.010","w":233.5,"a":0.071},{"c":"0.010","w":234,"a":0.074},{"c":"0.010","w":234.5,"a":0.077},{"c":"0.010","w":235,"a":0.08},{"c":"0.010","w":235.5,"a":0.084},{"c":"0.010","w":236,"a":0.088},{"c":"0.010","w":236.5,"a":0.092},{"c":"0.010","w":237,"a":0.096},{"c":"0.010","w":237.5,"a":0.1},{"c":"0.010","w":238,"a":0.106},{"c":"0.010","w":238.5,"a":0.112},{"c":"0.010","w":239,"a":0.12},{"c":"0.010","w":239.5,"a":0.128},{"c":"0.010","w":240,"a":0.136},{"c":"0.010","w":240.5,"a":0.144},{"c":"0.010","w":241,"a":0.153},{"c":"0.010","w":241.5,"a":0.165},{"c":"0.010","w":242,"a":0.178},{"c":"0.010","w":242.5,"a":0.19},{"c":"0.010","w":243,"a":0.203},{"c":"0.010","w":243.5,"a":0.217},{"c":"0.010","w":244,"a":0.232},{"c":"0.010","w":244.5,"a":0.248},{"c":"0.010","w":245,"a":0.265},{"c":"0.010","w":245.5,"a":0.285},{"c":"0.010","w":246,"a":0.305},{"c":"0.010","w":246.5,"a":0.325},{"c":"0.010","w":247,"a":0.343},{"c":"0.010","w":247.5,"a":0.36},{"c":"0.010","w":248,"a":0.373},{"c":"0.010","w":248.5,"a":0.388},{"c":"0.010","w":249,"a":0.405},{"c":"0.010","w":249.5,"a":0.422},{"c":"0.010","w":250,"a":0.44},{"c":"0.010","w":250.5,"a":0.458},{"c":"0.010","w":251,"a":0.477},{"c":"0.010","w":251.5,"a":0.492},{"c":"0.010","w":252,"a":0.508},{"c":"0.010","w":252.5,"a":0.522},{"c":"0.010","w":253,"a":0.535},{"c":"0.010","w":253.5,"a":0.545},{"c":"0.010","w":254,"a":0.553},{"c":"0.010","w":254.5,"a":0.562},{"c":"0.010","w":255,"a":0.572},{"c":"0.010","w":255.5,"a":0.583},{"c":"0.010","w":256,"a":0.597},{"c":"0.010","w":256.5,"a":0.612},{"c":"0.010","w":257,"a":0.628},{"c":"0.010","w":257.5,"a":0.645},{"c":"0.010","w":258,"a":0.656},{"c":"0.010","w":258.5,"a":0.662},{"c":"0.010","w":259,"a":0.658},{"c":"0.010","w":259.5,"a":0.645},{"c":"0.010","w":260,"a":0.625},{"c":"0.010","w":260.5,"a":0.602},{"c":"0.010","w":261,"a":0.578},{"c":"0.010","w":261.5,"a":0.555},{"c":"0.010","w":262,"a":0.535},{"c":"0.010","w":262.5,"a":0.515},{"c":"0.010","w":263,"a":0.502},{"c":"0.010","w":263.5,"a":0.495},{"c":"0.010","w":264,"a":0.49},{"c":"0.010","w":264.5,"a":0.487},{"c":"0.010","w":265,"a":0.483},{"c":"0.010","w":265.5,"a":0.476},{"c":"0.010","w":266,"a":0.462},{"c":"0.010","w":266.5,"a":0.44},{"c":"0.010","w":267,"a":0.395},{"c":"0.010","w":267.5,"a":0.362},{"c":"0.010","w":268,"a":0.248},{"c":"0.010","w":268.5,"a":0.225},{"c":"0.010","w":269,"a":0.19},{"c":"0.010","w":269.5,"a":0.163},{"c":"0.010","w":270,"a":0.14},{"c":"0.010","w":270.5,"a":0.115},{"c":"0.010","w":271,"a":0.09},{"c":"0.010","w":271.5,"a":0.072},{"c":"0.010","w":272,"a":0.058},{"c":"0.010","w":272.5,"a":0.046},{"c":"0.010","w":273,"a":0.036},{"c":"0.010","w":274,"a":0.022},{"c":"0.010","w":275,"a":0.014},{"c":"0.010","w":276,"a":0.009},{"c":"0.010","w":277,"a":0.005},{"c":"0.010","w":278,"a":0.002},{"c":"0.010","w":279,"a":0},{"c":"0.010","w":280,"a":-0.002},{"c":"0.010","w":281,"a":-0.003},{"c":"0.010","w":282,"a":-0.003},{"c":"0.010","w":283,"a":-0.002},{"c":"0.010","w":284,"a":-0.003},{"c":"0.010","w":285,"a":-0.003},{"c":"0.010","w":286,"a":-0.002},{"c":"0.010","w":287,"a":-0.003},{"c":"0.010","w":288,"a":-0.003},{"c":"0.010","w":289,"a":-0.002},{"c":"0.010","w":290,"a":-0.003},{"c":"0.010","w":291,"a":-0.003},{"c":"0.010","w":292,"a":-0.002},{"c":"0.010","w":293,"a":-0.003},{"c":"0.010","w":294,"a":-0.003},{"c":"0.010","w":295,"a":-0.002},{"c":"0.010","w":296,"a":-0.003},{"c":"0.010","w":297,"a":-0.003},{"c":"0.010","w":298,"a":-0.002},{"c":"0.010","w":299,"a":-0.003},{"c":"0.010","w":300,"a":-0.003},
{"c":"0.015","w":200,"a":0.895},{"c":"0.015","w":201,"a":0.87},{"c":"0.015","w":202,"a":0.865},{"c":"0.015","w":203,"a":0.868},{"c":"0.015","w":204,"a":0.878},{"c":"0.015","w":205,"a":0.893},{"c":"0.015","w":206,"a":0.912},{"c":"0.015","w":207,"a":0.935},{"c":"0.015","w":208,"a":0.96},{"c":"0.015","w":209,"a":0.985},{"c":"0.015","w":210,"a":1.012},{"c":"0.015","w":211,"a":1.04},{"c":"0.015","w":212,"a":1.065},{"c":"0.015","w":213,"a":1.083},{"c":"0.015","w":214,"a":1.093},{"c":"0.015","w":215,"a":1.09},{"c":"0.015","w":215.5,"a":1.082},{"c":"0.015","w":216,"a":1.07},{"c":"0.015","w":216.5,"a":1.05},{"c":"0.015","w":217,"a":1.025},{"c":"0.015","w":217.5,"a":0.995},{"c":"0.015","w":218,"a":0.955},{"c":"0.015","w":218.5,"a":0.915},{"c":"0.015","w":219,"a":0.87},{"c":"0.015","w":219.5,"a":0.83},{"c":"0.015","w":220,"a":0.79},{"c":"0.015","w":220.5,"a":0.72},{"c":"0.015","w":221,"a":0.68},{"c":"0.015","w":221.5,"a":0.62},{"c":"0.015","w":222,"a":0.58},{"c":"0.015","w":222.5,"a":0.54},{"c":"0.015","w":223,"a":0.47},{"c":"0.015","w":223.5,"a":0.43},{"c":"0.015","w":224,"a":0.372},{"c":"0.015","w":224.5,"a":0.333},{"c":"0.015","w":225,"a":0.293},{"c":"0.015","w":225.5,"a":0.253},{"c":"0.015","w":226,"a":0.22},{"c":"0.015","w":226.5,"a":0.186},{"c":"0.015","w":227,"a":0.157},{"c":"0.015","w":227.5,"a":0.13},{"c":"0.015","w":228,"a":0.11},{"c":"0.015","w":228.5,"a":0.098},{"c":"0.015","w":229,"a":0.092},{"c":"0.015","w":229.5,"a":0.088},{"c":"0.015","w":230,"a":0.085},{"c":"0.015","w":230.5,"a":0.084},{"c":"0.015","w":231,"a":0.083},{"c":"0.015","w":231.5,"a":0.083},{"c":"0.015","w":232,"a":0.085},{"c":"0.015","w":232.5,"a":0.087},{"c":"0.015","w":233,"a":0.09},{"c":"0.015","w":233.5,"a":0.094},{"c":"0.015","w":234,"a":0.098},{"c":"0.015","w":234.5,"a":0.102},{"c":"0.015","w":235,"a":0.108},{"c":"0.015","w":235.5,"a":0.115},{"c":"0.015","w":236,"a":0.122},{"c":"0.015","w":236.5,"a":0.13},{"c":"0.015","w":237,"a":0.14},{"c":"0.015","w":237.5,"a":0.15},{"c":"0.015","w":238,"a":0.162},{"c":"0.015","w":238.5,"a":0.174},{"c":"0.015","w":239,"a":0.188},{"c":"0.015","w":239.5,"a":0.205},{"c":"0.015","w":240,"a":0.222},{"c":"0.015","w":240.5,"a":0.242},{"c":"0.015","w":241,"a":0.262},{"c":"0.015","w":241.5,"a":0.283},{"c":"0.015","w":242,"a":0.303},{"c":"0.015","w":242.5,"a":0.322},{"c":"0.015","w":243,"a":0.34},{"c":"0.015","w":243.5,"a":0.357},{"c":"0.015","w":244,"a":0.373},{"c":"0.015","w":244.5,"a":0.39},{"c":"0.015","w":245,"a":0.415},{"c":"0.015","w":245.5,"a":0.445},{"c":"0.015","w":246,"a":0.475},{"c":"0.015","w":246.5,"a":0.5},{"c":"0.015","w":247,"a":0.52},{"c":"0.015","w":247.5,"a":0.54},{"c":"0.015","w":248,"a":0.56},{"c":"0.015","w":248.5,"a":0.583},{"c":"0.015","w":249,"a":0.605},{"c":"0.015","w":249.5,"a":0.628},{"c":"0.015","w":250,"a":0.655},{"c":"0.015","w":250.5,"a":0.685},{"c":"0.015","w":251,"a":0.715},{"c":"0.015","w":251.5,"a":0.75},{"c":"0.015","w":252,"a":0.78},{"c":"0.015","w":252.5,"a":0.805},{"c":"0.015","w":253,"a":0.825},{"c":"0.015","w":253.5,"a":0.84},{"c":"0.015","w":254,"a":0.852},{"c":"0.015","w":254.5,"a":0.862},{"c":"0.015","w":255,"a":0.872},{"c":"0.015","w":255.5,"a":0.885},{"c":"0.015","w":256,"a":0.9},{"c":"0.015","w":256.5,"a":0.928},{"c":"0.015","w":257,"a":0.958},{"c":"0.015","w":257.5,"a":0.98},{"c":"0.015","w":258,"a":0.994},{"c":"0.015","w":258.5,"a":1.0},{"c":"0.015","w":259,"a":0.995},{"c":"0.015","w":259.5,"a":0.98},{"c":"0.015","w":260,"a":0.955},{"c":"0.015","w":260.5,"a":0.925},{"c":"0.015","w":261,"a":0.89},{"c":"0.015","w":261.5,"a":0.845},{"c":"0.015","w":262,"a":0.8},{"c":"0.015","w":262.5,"a":0.772},{"c":"0.015","w":263,"a":0.755},{"c":"0.015","w":263.5,"a":0.745},{"c":"0.015","w":264,"a":0.74},{"c":"0.015","w":264.5,"a":0.735},{"c":"0.015","w":265,"a":0.728},{"c":"0.015","w":265.5,"a":0.712},{"c":"0.015","w":266,"a":0.69},{"c":"0.015","w":266.5,"a":0.661},{"c":"0.015","w":267,"a":0.627},{"c":"0.015","w":267.5,"a":0.559},{"c":"0.015","w":268,"a":0.45},{"c":"0.015","w":268.5,"a":0.378},{"c":"0.015","w":269,"a":0.31},{"c":"0.015","w":269.5,"a":0.235},{"c":"0.015","w":270,"a":0.19},{"c":"0.015","w":270.5,"a":0.145},{"c":"0.015","w":271,"a":0.115},{"c":"0.015","w":271.5,"a":0.09},{"c":"0.015","w":272,"a":0.062},{"c":"0.015","w":272.5,"a":0.045},{"c":"0.015","w":273,"a":0.035},{"c":"0.015","w":273.5,"a":0.028},{"c":"0.015","w":274,"a":0.024},{"c":"0.015","w":274.5,"a":0.021},{"c":"0.015","w":275,"a":0.018},{"c":"0.015","w":276,"a":0.012},{"c":"0.015","w":277,"a":0.007},{"c":"0.015","w":278,"a":0.003},{"c":"0.015","w":279,"a":0},{"c":"0.015","w":280,"a":-0.002},{"c":"0.015","w":281,"a":-0.003},{"c":"0.015","w":282,"a":-0.003},{"c":"0.015","w":283,"a":-0.002},{"c":"0.015","w":284,"a":-0.003},{"c":"0.015","w":285,"a":-0.003},{"c":"0.015","w":286,"a":-0.002},{"c":"0.015","w":287,"a":-0.003},{"c":"0.015","w":288,"a":-0.003},{"c":"0.015","w":289,"a":-0.002},{"c":"0.015","w":290,"a":-0.003},{"c":"0.015","w":291,"a":-0.003},{"c":"0.015","w":292,"a":-0.002},{"c":"0.015","w":293,"a":-0.003},{"c":"0.015","w":294,"a":-0.003},{"c":"0.015","w":295,"a":-0.002},{"c":"0.015","w":296,"a":-0.003},{"c":"0.015","w":297,"a":-0.003},{"c":"0.015","w":298,"a":-0.002},{"c":"0.015","w":299,"a":-0.003},{"c":"0.015","w":300,"a":-0.003}
]
},
"resolve":{"scale":{"x":"independent","y":"independent"},"axis":{"x":"independent","y":"independent"}},
"layer":[
{"data":{"name":"spectra"},
"mark":{"type":"point","size":72,"strokeWidth":1,"opacity":1},
"encoding":{
"x":{"field":"w","type":"quantitative","scale":{"domain":[200,300],"nice":false,"zero":false},
"axis":{"orient":"bottom","title":"wavelength/nm","values":[200,210,220,230,240,250,260,270,280,290,300],"labelExpr":"datum.value % 20 === 0 ? datum.label : ''","tickSize":5,"labelFontSize":20,"labelPadding":10,"labelFlush":false,"labelOverlap":false,"titleFontSize":31,"titlePadding":5}},
"y":{"field":"a","type":"quantitative","scale":{"domain":[-0.1,1.3],"nice":false,"zero":false},
"axis":{"orient":"left","title":"Absorption(a.u.)","values":[0,0.25,0.5,0.75,1,1.25],"labelExpr":"datum.value % 0.5 === 0 ? replace(format(datum.value, '.1f'), '.', ',') : ''","tickSize":5,"labelFontSize":20,"labelPadding":10,"labelFlush":false,"labelOverlap":false,"titleFontSize":31,"titlePadding":14}},
"shape":{"field":"c","type":"nominal","scale":{"domain":["0.015","0.010","0.008","0.006","0.004","0.002","0.001"],"range":["square","circle","M-1,-1L1,1M-1,1L1,-1M-1,0L0,-1L1,0L0,1Z","triangle-down","M0,-1L1,0L0,1L-1,0ZM-1,0L1,0M0,-1L0,1","M0,-1L0.235,-0.324L0.951,-0.309L0.38,0.124L0.588,0.809L0,0.4L-0.588,0.809L-0.38,0.124L-0.951,-0.309L-0.235,-0.324Z","triangle-right"]},
"legend":{"orient":"none","legendX":454,"legendY":93,"title":" ","titleFontSize":5,"titlePadding":0,"strokeColor":"black","fillColor":"white","padding":16,"labelFontSize":20,"labelFont":"Liberation Sans","labelColor":"black","labelOffset":23,"symbolOffset":-3,"rowPadding":4.7,"symbolSize":64,"symbolStrokeWidth":1}},
"stroke":{"field":"c","type":"nominal","scale":{"domain":["0.015","0.010","0.008","0.006","0.004","0.002","0.001"],"range":["#000000","#ff0000","#000080","#0000ff","#808000","#800080","#808080"]},
"legend":{"orient":"none","legendX":454,"legendY":93,"title":" ","titleFontSize":5,"titlePadding":0,"strokeColor":"black","fillColor":"white","padding":16,"labelFontSize":20,"labelFont":"Liberation Sans","labelColor":"black","labelOffset":23,"symbolOffset":-3,"rowPadding":4.7,"symbolSize":64,"symbolStrokeWidth":1}},
"fill":{"field":"c","type":"nominal","scale":{"domain":["0.015","0.010","0.008","0.006","0.004","0.002","0.001"],"range":["#000000","transparent","transparent","transparent","transparent","transparent","transparent"]},
"legend":{"orient":"none","legendX":454,"legendY":93,"title":" ","titleFontSize":5,"titlePadding":0,"strokeColor":"black","fillColor":"white","padding":16,"labelFontSize":20,"labelFont":"Liberation Sans","labelColor":"black","labelOffset":23,"symbolOffset":-3,"rowPadding":4.7,"symbolSize":64,"symbolStrokeWidth":1}}
}},
{"data":{"name":"arrow"},
"mark":{"type":"rule","color":"#8000ff","strokeWidth":2},
"encoding":{
"x":{"field":"w","type":"quantitative","scale":{"domain":[200,300],"nice":false,"zero":false},
"axis":{"orient":"top","title":null,"values":[200,210,220,230,240,250,260,270,280,290,300],"labels":false,"tickSize":-5}},
"y":{"field":"a","type":"quantitative","scale":{"domain":[-0.1,1.3],"nice":false,"zero":false},
"axis":{"orient":"right","title":null,"values":[0,0.25,0.5,0.75,1,1.25],"labels":false,"tickSize":-5}},
"y2":{"field":"a2"}
}},
{"data":{"name":"head"},
"mark":{"type":"point","shape":"M-0.5,-1L0.5,-1L0,1Z","size":196,"filled":true,"color":"#8000ff","opacity":1},
"encoding":{
"x":{"field":"w","type":"quantitative","scale":{"domain":[200,300],"nice":false,"zero":false},"axis":null},
"y":{"field":"a","type":"quantitative","scale":{"domain":[-0.1,1.3],"nice":false,"zero":false},"axis":null}
}},
{"data":{"name":"ltitle"},
"mark":{"type":"text","font":"Liberation Sans","fontWeight":"bold","fontSize":19,"align":"center","baseline":"middle","color":"black"},
"encoding":{
"x":{"field":"w","type":"quantitative","scale":{"domain":[200,300],"nice":false,"zero":false},"axis":null},
"y":{"field":"a","type":"quantitative","scale":{"domain":[-0.1,1.3],"nice":false,"zero":false},"axis":null},
"text":{"field":"t"}
}}
]
}
